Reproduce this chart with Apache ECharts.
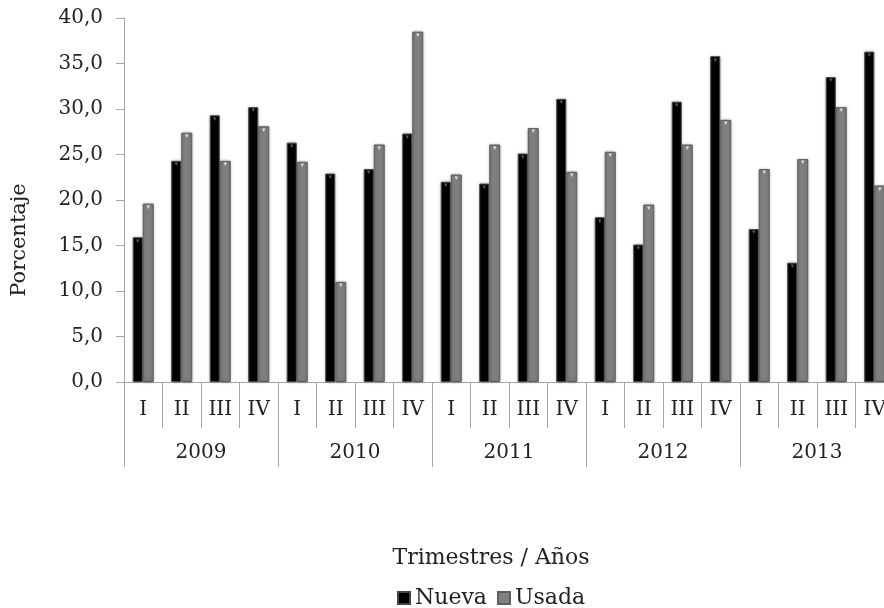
<!DOCTYPE html>
<html>
<head>
<meta charset="utf-8">
<script src="https://cdn.jsdelivr.net/npm/echarts@6/dist/echarts.min.js"></script>
<style>
  html, body { margin: 0; padding: 0; background: #fff; }
  #chart { width: 884px; height: 608px; }
</style>
</head>
<body>
<div id="chart"></div>
<script>
const quarters = ['I', 'II', 'III', 'IV', 'I', 'II', 'III', 'IV', 'I', 'II', 'III', 'IV',
  'I', 'II', 'III', 'IV', 'I', 'II', 'III', 'IV']
const years = ['2009', '2010', '2011', '2012', '2013']
const nueva = [15.9, 24.3, 29.3, 30.2, 26.3, 22.9, 23.4, 27.3, 22.0, 21.8, 25.1, 31.1,
  18.1, 15.1, 30.8, 35.8, 16.8, 13.1, 33.5, 36.3]
const usada = [19.6, 27.4, 24.3, 28.1, 24.2, 11.0, 26.1, 38.5, 22.8, 26.1, 27.9, 23.1,
  25.3, 19.5, 26.1, 28.8, 23.4, 24.5, 30.2, 21.6]

const font = 'DejaVu Serif'
const axisGray = '#a6a6a6'

const chart = echarts.init(document.getElementById('chart'))

chart.setOption({
  animation: false,
  textStyle: { fontFamily: font, color: '#222' },
  title: {
    text: 'Trimestres / Años',
    left: 486,
    top: 542,
    textAlign: 'center',
    textStyle: { fontFamily: font, fontSize: 22, fontWeight: 'normal', color: '#222' }
  },
  legend: {
    data: ['Nueva', 'Usada'],
    left: 392,
    top: 582,
    itemWidth: 12,
    itemHeight: 12,
    itemGap: 10,
    icon: 'rect',
    textStyle: { fontFamily: font, fontSize: 22, color: '#222' }
  },
  // y axis title, drawn lower than the axis middle like the original
  graphic: [{
    type: 'text',
    x: 20,
    y: 240,
    rotation: Math.PI / 2,
    style: {
      text: 'Porcentaje',
      font: '21px "DejaVu Serif"',
      fill: '#222',
      textAlign: 'center',
      textVerticalAlign: 'middle'
    }
  }],
  // the original is cut off at the right edge
  grid: { left: 124, top: 18, width: 770, height: 364, outerBoundsMode: 'none' },
  xAxis: [
    {
      type: 'category',
      data: quarters,
      axisLine: { lineStyle: { color: axisGray } },
      axisTick: { show: true, interval: 0, length: 46, lineStyle: { color: axisGray } },
      axisLabel: { interval: 0, margin: 18, fontSize: 20, fontFamily: font, color: '#222' }
    },
    {
      type: 'category',
      data: years,
      position: 'bottom',
      axisLine: { show: false },
      axisTick: { show: true, interval: 0, length: 85, lineStyle: { color: axisGray } },
      axisLabel: { interval: 0, margin: 61, fontSize: 20, fontFamily: font, color: '#222' }
    }
  ],
  yAxis: {
    type: 'value',
    min: 0,
    max: 40,
    interval: 5,
    axisLine: { show: true, lineStyle: { color: axisGray } },
    axisTick: { show: true, length: 8, lineStyle: { color: axisGray } },
    splitLine: { show: false },
    axisLabel: {
      margin: 21,
      fontSize: 20,
      fontFamily: font,
      color: '#222',
      formatter: v => v.toFixed(1).replace('.', ',')
    }
  },
  series: [
    {
      name: 'Nueva',
      type: 'bar',
      data: nueva,
      barWidth: 10,
      barGap: '0%',
      itemStyle: {
        color: '#000',
        borderColor: '#444',
        borderWidth: 1,
        shadowBlur: 3,
        shadowColor: 'rgba(0,0,0,0.3)'
      },
      label: { show: true, position: 'insideTop', distance: 0, formatter: '▾', fontSize: 7, color: '#555' }
    },
    {
      name: 'Usada',
      type: 'bar',
      data: usada,
      barWidth: 11,
      itemStyle: {
        color: '#7f7f7f',
        borderColor: '#5e5e5e',
        borderWidth: 1,
        shadowBlur: 3,
        shadowColor: 'rgba(0,0,0,0.3)'
      },
      label: { show: true, position: 'insideTop', distance: 0, formatter: '▾', fontSize: 7, color: '#d8d8d8' }
    }
  ]
})
</script>
</body>
</html>
